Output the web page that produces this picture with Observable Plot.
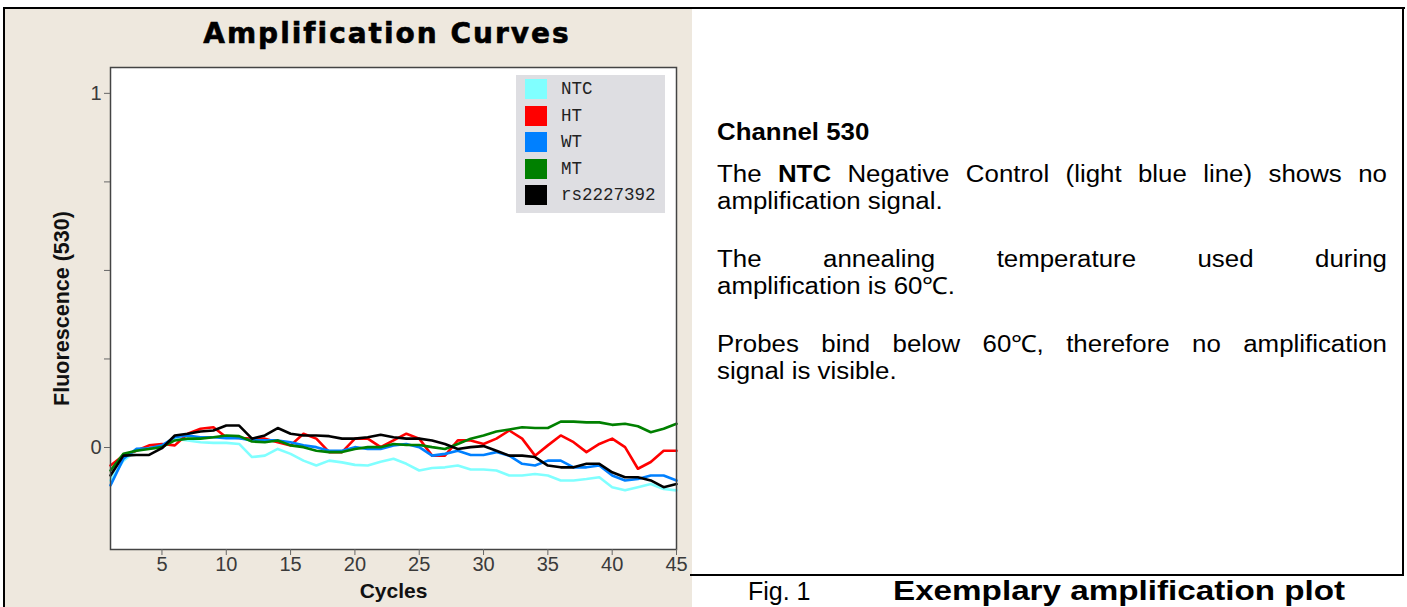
<!DOCTYPE html>
<html><head><meta charset="utf-8">
<script src="https://cdn.jsdelivr.net/npm/d3@7"></script>
<script src="https://cdn.jsdelivr.net/npm/@observablehq/plot@0.6"></script>
<style>
body{margin:0;background:#fff;}
#root{position:relative;width:1407px;height:607px;overflow:hidden;font-family:"Liberation Sans",Arial,sans-serif;color:#000;}
.abs{position:absolute;}
#txt{position:absolute;left:717px;top:0;width:609px;height:400px;transform:scaleX(1.1);transform-origin:0 0;}
.line{position:absolute;left:0;width:609px;font-size:23.5px;line-height:27px;white-space:nowrap;}
.just{text-align:justify;text-align-last:justify;white-space:normal;}
.nb{display:inline-block;}
</style></head><body><div id="root">
<div class="abs" style="left:5px;top:9px;width:687px;height:598px;background:#EEE8DE;"></div>
<div class="abs" style="left:3px;top:7px;width:2px;height:600px;background:#000;"></div>
<div class="abs" style="left:3px;top:7px;width:1402px;height:2px;background:#000;"></div>
<div class="abs" style="left:1402px;top:7px;width:2px;height:569px;background:#000;"></div>
<div class="abs" style="left:690px;top:574px;width:714px;height:2px;background:#000;"></div>
<div class="abs" style="left:180px;top:17px;width:414px;text-align:center;font-family:'DejaVu Sans',sans-serif;font-weight:bold;font-size:28px;line-height:34px;letter-spacing:2px;-webkit-text-stroke:0.6px #000;">Amplification Curves</div>
<div id="legend"></div>
<div id="txt">
<div class="line" style="top:119px;font-weight:bold;">Channel 530</div>
<div class="line just" style="top:161px;">The <b>NTC</b> Negative Control (light blue line) shows no</div>
<div class="line" style="top:188px;">amplification signal.</div>
<div class="line just" style="top:246px;">The annealing temperature used during</div>
<div class="line" style="top:273px;">amplification is 60℃.</div>
<div class="line just" style="top:331px;">Probes bind below <span class="nb">60℃,</span> therefore no amplification</div>
<div class="line" style="top:358px;">signal is visible.</div>
</div>
<div class="abs" style="left:748px;top:577px;font-size:25px;line-height:28px;">Fig. 1</div>
<div class="abs" style="left:893px;top:576px;font-size:27px;line-height:30px;font-weight:bold;transform:scaleX(1.23);transform-origin:0 0;white-space:nowrap;">Exemplary amplification plot</div>
</div>
<script>
const cycles=[1,2,3,4,5,6,7,8,9,10,11,12,13,14,15,16,17,18,19,20,21,22,23,24,25,26,27,28,29,30,31,32,33,34,35,36,37,38,39,40,41,42,43,44,45];
const seriesNames=["NTC","HT","WT","MT","rs2227392"];
const seriesColors=["#80FFFF","#FF0000","#0080FF","#008000","#000000"];
const ntc=[-0.093,-0.037,-0.009,-0.002,0.006,0.025,0.020,0.015,0.013,0.013,0.010,-0.027,-0.023,-0.004,-0.018,-0.037,-0.051,-0.037,-0.042,-0.049,-0.051,-0.040,-0.032,-0.046,-0.065,-0.058,-0.056,-0.051,-0.062,-0.062,-0.065,-0.079,-0.079,-0.075,-0.079,-0.093,-0.093,-0.089,-0.084,-0.112,-0.121,-0.112,-0.103,-0.117,-0.121];
const ht=[-0.051,-0.023,-0.009,0.006,0.010,0.006,0.039,0.053,0.057,0.029,0.027,0.025,0.025,0.015,0.006,0.039,0.025,-0.013,-0.013,0.025,0.025,0.001,0.020,0.039,0.025,-0.023,-0.023,0.020,0.020,0.010,0.025,0.048,0.025,-0.023,0.006,0.034,0.015,-0.013,0.010,0.025,0.001,-0.060,-0.041,-0.009,-0.009];
const wt=[-0.107,-0.032,-0.004,-0.002,0.006,0.029,0.034,0.029,0.029,0.026,0.026,0.020,0.020,0.020,0.015,0.006,0.001,-0.009,-0.009,0.001,-0.004,-0.004,0.006,0.010,0.001,-0.023,-0.018,-0.009,-0.021,-0.021,-0.013,-0.023,-0.046,-0.051,-0.037,-0.037,-0.056,-0.056,-0.051,-0.079,-0.093,-0.089,-0.079,-0.079,-0.093];
const mt=[-0.065,-0.018,-0.009,-0.004,0.001,0.020,0.025,0.025,0.029,0.034,0.032,0.017,0.015,0.020,0.006,0.001,-0.009,-0.013,-0.013,-0.004,0.001,0.001,0.010,0.007,0.007,0.001,-0.004,0.010,0.025,0.034,0.045,0.051,0.057,0.055,0.055,0.073,0.073,0.071,0.071,0.064,0.067,0.060,0.043,0.053,0.067];
const rs=[-0.079,-0.023,-0.021,-0.021,-0.002,0.034,0.039,0.045,0.048,0.062,0.062,0.025,0.034,0.055,0.039,0.034,0.034,0.032,0.025,0.025,0.029,0.036,0.029,0.025,0.025,0.020,0.010,-0.004,0.001,0.004,-0.009,-0.023,-0.023,-0.027,-0.051,-0.056,-0.056,-0.046,-0.046,-0.070,-0.084,-0.084,-0.093,-0.112,-0.103];
const yTicks=[0,0.25,0.5,0.75,1];
const yTickLabels=["0","","","","1"];
const xTicks=[5,10,15,20,25,30,35,40,45];

const rows=[];
[ntc,ht,wt,mt,rs].forEach((arr,i)=>arr.forEach((v,j)=>rows.push({series:seriesNames[i],cycle:cycles[j],value:v})));

const chart=Plot.plot({
  width:692,height:607,marginLeft:110,marginRight:16,marginTop:67,marginBottom:58,
  style:{background:"transparent",fontFamily:"Liberation Sans, Arial, sans-serif",fontSize:"20px",color:"#333",overflow:"visible"},
  x:{domain:[1,45]},
  y:{domain:[-0.288,1.073]},
  color:{domain:seriesNames,range:seriesColors},
  marks:[
    Plot.frame({fill:"white"}),
    Plot.line(rows,{x:"cycle",y:"value",stroke:"series",z:"series",strokeWidth:2.6}),
    Plot.frame({stroke:"#444",strokeWidth:1.5}),
    Plot.axisX({ticks:xTicks,tickSize:6,tickPadding:1,label:null,stroke:"#666",fill:"#3a3a3a",fontSize:20}),
    Plot.axisY({ticks:yTicks,tickFormat:d=>yTickLabels[yTicks.indexOf(d)],tickSize:6,tickPadding:3,label:null,stroke:"#666",fill:"#3a3a3a",fontSize:20}),
    Plot.text(["Cycles"],{frameAnchor:"bottom",lineAnchor:"middle",dy:42,fontWeight:"bold",fontSize:21,fill:"#111"}),
    Plot.text(["Fluorescence (530)"],{frameAnchor:"left",textAnchor:"middle",lineAnchor:"middle",dx:-48,rotate:-90,fontWeight:"bold",fontSize:21.5,fill:"#111"})
  ]
});
chart.style.position="absolute";chart.style.left="0px";chart.style.top="0px";
const root=document.getElementById("root");
root.insertBefore(chart,document.getElementById("legend"));

const leg=document.getElementById("legend");
leg.style.cssText="position:absolute;left:516px;top:75px;width:149px;height:138px;background:#DEDEE2;";
seriesNames.forEach((n,i)=>{
  const sw=document.createElement("div");
  sw.style.cssText=`position:absolute;left:9px;top:${4+i*26.5}px;width:22px;height:20px;background:${seriesColors[i]};`;
  leg.appendChild(sw);
  const t=document.createElement("div");
  t.textContent=n;
  t.style.cssText=`position:absolute;left:45px;top:${4+i*26.5}px;height:20px;line-height:20px;font-family:'Liberation Mono','Courier New',monospace;font-size:17.5px;color:#222;`;
  leg.appendChild(t);
});
</script>
</body></html>
